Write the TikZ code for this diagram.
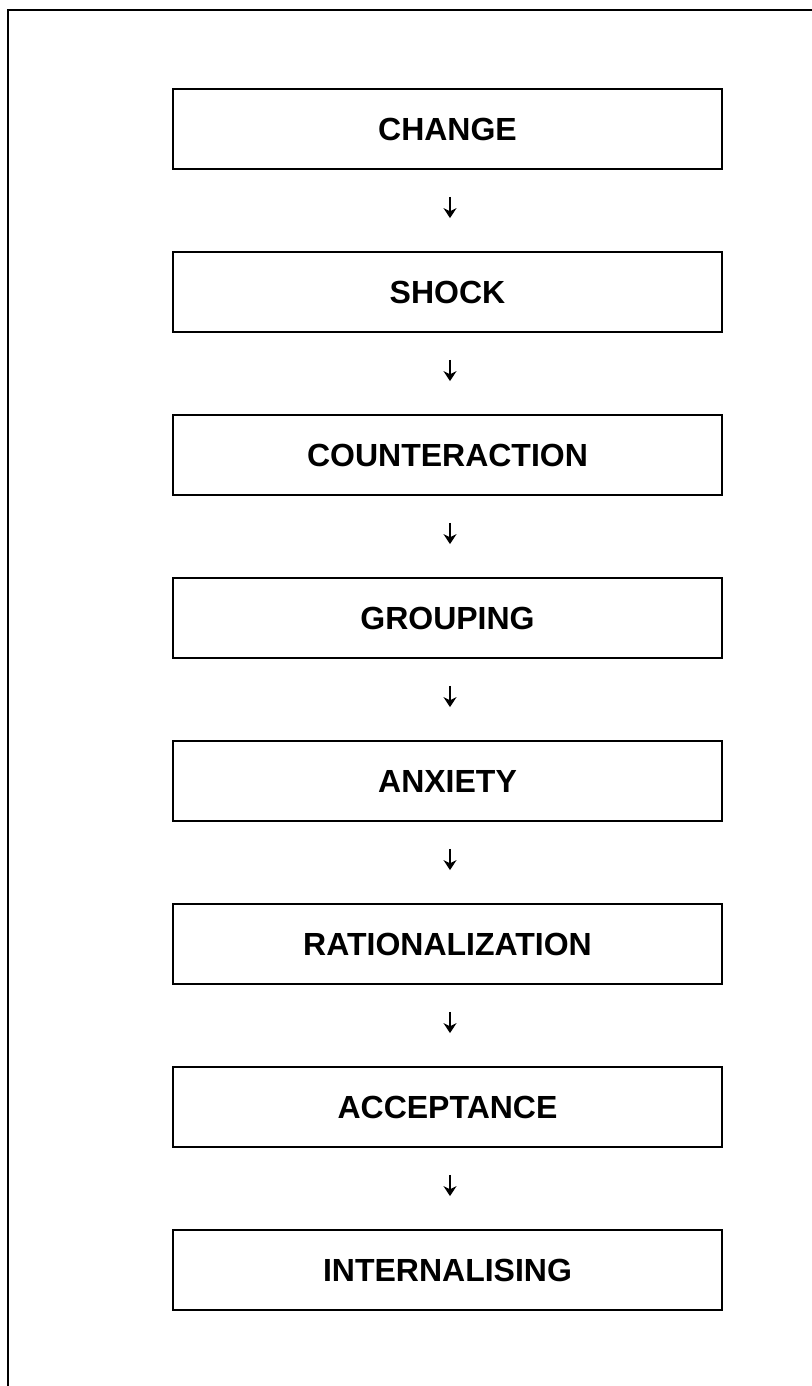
\documentclass[tikz,border=0pt]{standalone}
\usepackage{fontspec}
\setmainfont{Liberation Sans}
\usetikzlibrary{arrows.meta}
\begin{document}
\begin{tikzpicture}[x=1pt,y=-1pt,
  stage/.style={draw=black, line width=1.8pt, minimum width=549pt,
    minimum height=80pt, inner sep=0pt,
    font=\fontsize{32}{36}\selectfont\bfseries},
  flow/.style={line width=1.4pt, -{Stealth[length=10pt,width=13pt]}}]
\useasboundingbox (0,0) rectangle (811,1386);
% page frame (only the top and left sides are in view)
\draw[line width=2pt] (8,1400) -- (8,10) -- (820,10);
% the eight stages
\foreach \name/\txt [count=\i from 0] in {
    change/CHANGE, shock/SHOCK, counter/COUNTERACTION, grouping/GROUPING,
    anxiety/ANXIETY, rational/RATIONALIZATION, accept/ACCEPTANCE,
    internal/INTERNALISING}
  \node[stage] (\name) at (447.5,{129+163*\i}) {\txt};
% short arrows between consecutive stages
\foreach \a/\b in {change/shock, shock/counter, counter/grouping,
    grouping/anxiety, anxiety/rational, rational/accept, accept/internal}
  \draw[flow] ([shift={(2.5,27)}]\a.south) -- ([shift={(2.5,-33)}]\b.north);
\end{tikzpicture}
\end{document}
